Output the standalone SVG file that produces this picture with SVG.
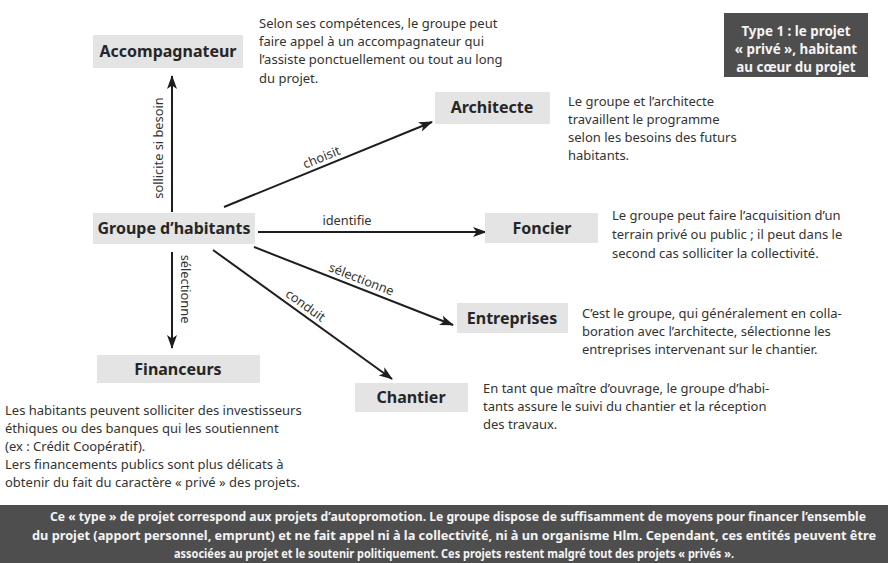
<svg xmlns="http://www.w3.org/2000/svg" width="888" height="563" viewBox="0 0 888 563">
<defs>
<style>
.node rect{fill:#e4e4e4}
.lbl{font-family:"Noto Sans","Open Sans",sans-serif;font-weight:bold;font-size:16px;fill:#262626;text-anchor:middle}
.desc{font-family:"Noto Sans","Open Sans",sans-serif;font-size:13px;fill:#333}
.edge{stroke:#1e1e1e;stroke-width:2;fill:none;marker-end:url(#ah)}
.elbl{font-family:"Noto Sans","Open Sans",sans-serif;font-size:12.8px;fill:#333;text-anchor:middle}
.dark{fill:#4e4e4e}
.wt{font-family:"Noto Sans","Open Sans",sans-serif;font-weight:bold;font-size:13.4px;fill:#f4f4f4;text-anchor:middle}
.bt{font-family:"Noto Sans","Open Sans",sans-serif;font-weight:bold;font-size:12px;fill:#f4f4f4;text-anchor:middle}
</style>
<marker id="ah" viewBox="0 0 14 10" refX="13" refY="5" markerWidth="14" markerHeight="10" markerUnits="userSpaceOnUse" orient="auto">
<path d="M0,0 L14,5 L0,10 L3.5,5 z" fill="#1e1e1e"/>
</marker>
</defs>
<rect width="888" height="563" fill="#ffffff"/>

<g id="connectors">
<line class="edge" x1="172" y1="212" x2="172" y2="76"/>
<text class="elbl" transform="translate(163,148) rotate(-90)">sollicite si besoin</text>
<line class="edge" x1="224" y1="207" x2="432" y2="122"/>
<text class="elbl" transform="translate(325,166) rotate(-22.2)" dy="-5">choisit</text>
<line class="edge" x1="258" y1="232" x2="486" y2="232"/>
<text class="elbl" x="347" y="225">identifie</text>
<line class="edge" x1="254" y1="247" x2="453" y2="325"/>
<text class="elbl" transform="translate(358,288) rotate(21.4)" dy="-5">sélectionne</text>
<line class="edge" x1="213" y1="250" x2="392" y2="379"/>
<text class="elbl" transform="translate(300,313) rotate(35.8)" dy="-5">conduit</text>
<line class="edge" x1="172" y1="252" x2="172" y2="348"/>
<text class="elbl" transform="translate(181,289) rotate(90)">sélectionne</text>
</g>

<g id="accompagnateur" class="node">
<rect x="93" y="35" width="150" height="33"/>
<text class="lbl" x="168" y="57">Accompagnateur</text>
<text class="desc"><tspan x="259" y="28">Selon ses compétences, le groupe peut</tspan><tspan x="259" y="46">faire appel à un accompagnateur qui</tspan><tspan x="259" y="64">l’assiste ponctuellement ou tout au long</tspan><tspan x="259" y="83">du projet.</tspan></text>
</g>

<g id="architecte" class="node">
<rect x="435" y="92" width="115" height="32"/>
<text class="lbl" x="492" y="113">Architecte</text>
<text class="desc"><tspan x="568" y="106">Le groupe et l’architecte</tspan><tspan x="568" y="124">travaillent le programme</tspan><tspan x="568" y="142">selon les besoins des futurs</tspan><tspan x="568" y="160">habitants.</tspan></text>
</g>

<g id="groupe" class="node">
<rect x="93" y="213" width="162" height="31"/>
<text class="lbl" x="174" y="234">Groupe d’habitants</text>
</g>

<g id="foncier" class="node">
<rect x="485" y="213" width="113" height="30"/>
<text class="lbl" x="542" y="234">Foncier</text>
<text class="desc"><tspan x="612" y="220">Le groupe peut faire l’acquisition d’un</tspan><tspan x="612" y="239">terrain privé ou public ; il peut dans le</tspan><tspan x="612" y="258">second cas solliciter la collectivité.</tspan></text>
</g>

<g id="entreprises" class="node">
<rect x="457" y="303" width="111" height="30"/>
<text class="lbl" x="512" y="324">Entreprises</text>
<text class="desc"><tspan x="582" y="318">C’est le groupe, qui généralement en colla-</tspan><tspan x="582" y="336">boration avec l’architecte, sélectionne les</tspan><tspan x="582" y="354">entreprises intervenant sur le chantier.</tspan></text>
</g>

<g id="chantier" class="node">
<rect x="355" y="383" width="113" height="29"/>
<text class="lbl" x="411" y="403">Chantier</text>
<text class="desc"><tspan x="483" y="393">En tant que maître d’ouvrage, le groupe d’habi-</tspan><tspan x="483" y="411">tants assure le suivi du chantier et la réception</tspan><tspan x="483" y="429">des travaux.</tspan></text>
</g>

<g id="financeurs" class="node">
<rect x="97" y="355" width="163" height="28"/>
<text class="lbl" x="178" y="375">Financeurs</text>
<text class="desc"><tspan x="5" y="415">Les habitants peuvent solliciter des investisseurs</tspan><tspan x="5" y="433">éthiques ou des banques qui les soutiennent</tspan><tspan x="5" y="451">(ex : Crédit Coopératif).</tspan><tspan x="5" y="469">Lers financements publics sont plus délicats à</tspan><tspan x="5" y="487">obtenir du fait du caractère « privé » des projets.</tspan></text>
</g>

<g id="type1">
<rect class="dark" x="724" y="13" width="144" height="64"/>
<text class="wt"><tspan x="796" y="36">Type 1 : le projet</tspan><tspan x="796" y="54">« privé », habitant</tspan><tspan x="796" y="72">au cœur du projet</tspan></text>
</g>

<g id="banner">
<rect class="dark" x="0" y="505" width="888" height="58"/>
<text class="bt" x="458" y="521" textLength="816" lengthAdjust="spacingAndGlyphs">Ce « type » de projet correspond aux projets d’autopromotion. Le groupe dispose de suffisamment de moyens pour financer l’ensemble</text>
<text class="bt" x="454" y="540" textLength="844" lengthAdjust="spacingAndGlyphs">du projet (apport personnel, emprunt) et ne fait appel ni à la collectivité, ni à un organisme Hlm. Cependant, ces entités peuvent être</text>
<text class="bt" x="454" y="558" textLength="560" lengthAdjust="spacingAndGlyphs">associées au projet et le soutenir politiquement. Ces projets restent malgré tout des projets « privés ».</text>
</g>
</svg>
